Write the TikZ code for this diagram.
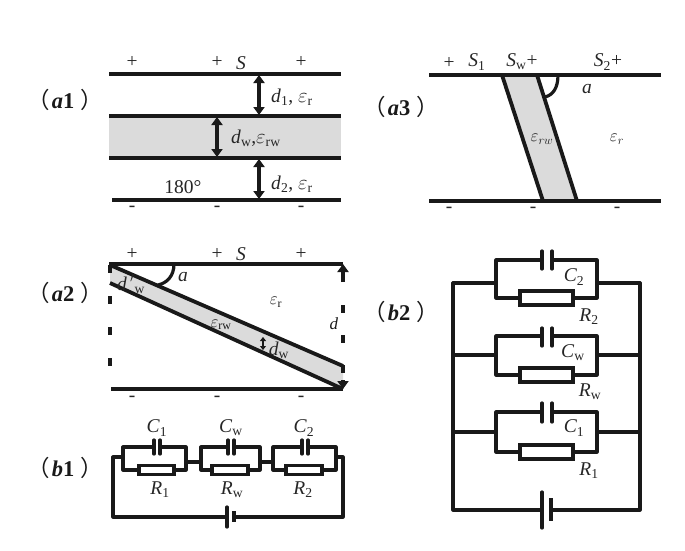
\documentclass[tikz,border=0pt]{standalone}
\usepackage{fontspec}
\setmainfont{Liberation Serif}
\newfontfamily\cjk{Noto Sans CJK SC}
\usetikzlibrary{arrows.meta}

\newcommand{\sbt}[2]{\textit{#1}\textsubscript{#2}}
\newcommand{\panel}[2]{{\cjk （}\hspace{2pt}\textbf{\textit{#1}#2}\hspace{6pt}{\cjk ）}}
\newcommand{\er}{$\varepsilon_{\mathrm{r}}$}
\newcommand{\erw}{$\varepsilon_{\mathrm{rw}}$}

\tikzset{
  wire/.style={line width=3.2pt, line cap=round, line join=round, draw=black!90},
  plate/.style={line width=3.6pt, draw=black!90},
  wall/.style={line width=3.8pt, draw=black!90},
  tipa/.style={-{Triangle[width=11pt,length=8pt]}},
  dbl/.style={line width=3.4pt, {Triangle[width=11pt,length=8pt]}-{Triangle[width=11pt,length=8pt]}, draw=black!90},
  lbl/.style={inner sep=0pt, font=\fontsize{19.5}{22}\selectfont, text=black!85},
  small/.style={inner sep=0pt, font=\fontsize{17}{20}\selectfont, text=black!90},
  panelname/.style={inner sep=0pt, font=\fontsize{22.5}{26}\selectfont, text=black!90},
  res/.style={draw=black!90, line width=3.2pt, fill=white, inner sep=0pt}
}

\begin{document}
\begin{tikzpicture}[x=1pt, y=-1pt]
\useasboundingbox (0,0) rectangle (685,551);

% panel names
\node[panelname] (na1) at (65,100) {\panel{a}{1}};
\node[panelname] (na2) at (65,293) {\panel{a}{2}};
\node[panelname] (na3) at (401,107) {\panel{a}{3}};
\node[panelname] (nb1) at (65,468) {\panel{b}{1}};
\node[panelname] (nb2) at (401,312) {\panel{b}{2}};

% a1
\fill[black!14] (109,116) rectangle (341,158);
\draw[plate] (109,74) coordinate (atl) -- (341,74) coordinate (atr);
\draw[plate] (109,116) coordinate (aml) -- (341,116) coordinate (amr);
\draw[plate] (109,158) coordinate (anl) -- (341,158) coordinate (anr);
\draw[plate] (112,200) coordinate (abl) -- (341,200) coordinate (abr);
\coordinate (d1t) at (259,75);
\coordinate (d1b) at (259,115);
\coordinate (dwt) at (217,117);
\coordinate (dwb) at (217,157);
\coordinate (d2t) at (259,159);
\coordinate (d2b) at (259,199);
\draw[dbl] (d1t) -- (d1b);
\draw[dbl] (dwt) -- (dwb);
\draw[dbl] (d2t) -- (d2b);
\foreach \px/\nm in {132/a, 217/b, 301/c}{
  \node[lbl] (ap\nm) at (\px,62) {+};
  \node[lbl] (am\nm) at (\px,209) {-};
  \node[lbl] (bp\nm) at (\px,254) {+};
  \node[lbl] (bm\nm) at (\px,399) {-};
}
\node[lbl] (aS) at (241,63) {\textit{S}};
\node[lbl, anchor=west] (ad1) at (271,97) {\sbt{d}{1}, \er};
\node[lbl, anchor=west] (adw) at (231,138) {\sbt{d}{w},\erw};
\node[lbl, anchor=west] (ad2) at (271,184) {\sbt{d}{2}, \er};
\node[lbl] (aang) at (183,187) {180°};

% a2
\coordinate (wa) at (110,265);
\coordinate (wb) at (343,366);
\coordinate (wc) at (343,389);
\coordinate (wd) at (110,283);
\fill[black!14] (wa) -- (wb) -- (wc) -- (wd) -- cycle;
\draw[wall] (wa) -- (wb);
\draw[wall] (wd) -- (wc);
\draw[plate] (109,264) coordinate (btl) -- (343,264) coordinate (btr);
\draw[plate] (111,389) coordinate (bbl) -- (343,389) coordinate (bbr);
\coordinate (dla) at (110,265);
\coordinate (dlb) at (110,366);
\draw[line width=4pt, draw=black!90, dash pattern=on 8pt off 23pt] (dla) -- (dlb);
\coordinate (dra) at (343,305);
\coordinate (drb) at (343,377);
\draw[line width=3.6pt, draw=black!90, dash pattern=on 8pt off 22pt] (dra) -- (drb);
\draw[line width=3.6pt, draw=black!90, tipa] (343,282) -- (btr);
\draw[line width=3.6pt, draw=black!90, tipa] (343,380) -- (bbr);
\coordinate (angb1) at (174,264);
\coordinate (angb2) at (158,285);
\draw[wire] (angb1) .. controls (174,276) and (167,283) .. (angb2);
\coordinate (dsa) at (263,337);
\coordinate (dsb) at (263,350);
\draw[line width=2pt, draw=black!90, {Triangle[width=6pt,length=4pt]}-{Triangle[width=6pt,length=4pt]}] (dsa) -- (dsb);
\node[lbl] (bS) at (241,254) {\textit{S}};
\node[lbl] (ba) at (183,277) {\textit{a}};
\node[small] (ber) at (276,302) {\er};
\node[small] (berw) at (221,325) {\erw};
\node[small] (bd) at (334,324) {\textit{d}};
\node[lbl] (bdw) at (279,350) {\sbt{d}{w}};
\node[lbl] (bdp) at (131,284) {\textit{d}\,$'$\textsubscript{w}};

% a3
\coordinate (ca) at (502,75);
\coordinate (cb) at (537,75);
\coordinate (cc) at (577,201);
\coordinate (cd) at (543,201);
\fill[black!14] (ca) -- (cb) -- (cc) -- (cd) -- cycle;
\draw[wall] (ca) -- (cd);
\draw[wall] (cb) -- (cc);
\draw[plate] (429,75) coordinate (ctl) -- (661,75) coordinate (ctr);
\draw[plate] (429,201) coordinate (cbl) -- (661,201) coordinate (cbr);
\coordinate (angc1) at (558,75);
\coordinate (angc2) at (545,97);
\draw[wire] (angc1) .. controls (558,88) and (553,95) .. (angc2);
\node[lbl] (cp) at (449,63) {+};
\node[lbl] (cS1) at (477,62) {\sbt{S}{1}};
\node[lbl] (cSw) at (522,62) {\sbt{S}{w}+};
\node[lbl] (cS2) at (608,62) {\sbt{S}{2}+};
\node[lbl] (ca3) at (587,89) {\textit{a}};
\node[small] (cerw) at (542,139) {$\varepsilon_{rw}$};
\node[small] (cer) at (617,139) {$\varepsilon_{r}$};
\foreach \px/\nm in {449/a, 533/b, 617/c}
  \node[lbl] (cm\nm) at (\px,210) {-};

% b1
\foreach \nm/\xl/\xr/\xc/\xra/\xrb in {p/123/186/157/139/174, q/201/260/231/212/248, u/273/336/305/286/322}{
  \coordinate (\nm tl) at (\xl,447);
  \coordinate (\nm tr) at (\xr,447);
  \coordinate (\nm bl) at (\xl,470);
  \coordinate (\nm br) at (\xr,470);
  \coordinate (\nm ca) at (\xc-3,447);
  \coordinate (\nm cb) at (\xc+3,447);
  \node[res, minimum width=\xrb-\xra, minimum height=9pt] (\nm r) at ({(\xra+\xrb)/2},470) {};
  \draw[wire] (\nm ca) -- (\nm tl) -- (\nm bl) -- (\nm r);
  \draw[wire] (\nm cb) -- (\nm tr) -- (\nm br) -- (\nm r);
  \draw[wire] (\xc-3,440) -- (\nm ca) -- (\xc-3,454);
  \draw[wire] (\xc+3,440) -- (\nm cb) -- (\xc+3,454);
}
\coordinate (pm) at (186,462);
\coordinate (qml) at (201,462);
\coordinate (qmr) at (260,462);
\coordinate (um) at (273,462);
\draw[wire] (pm) -- (qml);
\draw[wire] (qmr) -- (um);
\coordinate (ola) at (123,457);
\coordinate (olb) at (113,457);
\coordinate (olc) at (113,517);
\coordinate (ora) at (336,457);
\coordinate (orb) at (343,457);
\coordinate (orc) at (343,517);
\coordinate (bta) at (227,517);
\coordinate (btb) at (234,517);
\draw[wire] (ola) -- (olb) -- (olc) -- (bta);
\draw[wire] (ora) -- (orb) -- (orc) -- (btb);
\draw[wire] (227,507) -- (bta) -- (227,527);
\draw[line width=4pt, draw=black!90] (234,511) -- (btb) -- (234,522);
\node[lbl] (lc1) at (157,428) {\sbt{C}{1}};
\node[lbl] (lcw) at (231,428) {\sbt{C}{w}};
\node[lbl] (lc2) at (304,428) {\sbt{C}{2}};
\node[lbl] (lr1) at (160,490) {\sbt{R}{1}};
\node[lbl] (lrw) at (232,490) {\sbt{R}{w}};
\node[lbl] (lr2) at (303,490) {\sbt{R}{2}};

% b2
\foreach \nm/\yt/\ym/\yb/\yca/\ycb in {g/260/283/298/251/269, h/336/355/375/328/346, k/412/432/452/403/422}{
  \coordinate (\nm tl) at (496,\yt);
  \coordinate (\nm tr) at (597,\yt);
  \coordinate (\nm bl) at (496,\yb);
  \coordinate (\nm br) at (597,\yb);
  \coordinate (\nm ca) at (542,\yt);
  \coordinate (\nm cb) at (552,\yt);
  \coordinate (\nm ml) at (496,\ym);
  \coordinate (\nm mr) at (597,\ym);
  \coordinate (\nm ol) at (453,\ym);
  \coordinate (\nm or) at (640,\ym);
  \node[res, minimum width=53pt, minimum height=14pt] (\nm r) at (546.5,\yb) {};
  \draw[wire] (\nm ca) -- (\nm tl) -- (\nm bl) -- (\nm r);
  \draw[wire] (\nm cb) -- (\nm tr) -- (\nm br) -- (\nm r);
  \draw[wire] (542,\yca) -- (542,\ycb);
  \draw[wire] (552,\yca) -- (552,\ycb);
  \draw[wire] (\nm ol) -- (\nm ml);
  \draw[wire] (\nm mr) -- (\nm or);
}
\coordinate (ebl) at (453,510);
\coordinate (ebr) at (640,510);
\coordinate (eba) at (542,510);
\coordinate (ebb) at (551,510);
\draw[wire] (gol) -- (ebl) -- (eba);
\draw[wire] (gor) -- (ebr) -- (ebb);
\draw[wire] (542,492) -- (eba) -- (542,528);
\draw[line width=4pt, draw=black!90] (551,498) -- (ebb) -- (551,521);
\node[lbl] (mc2) at (574,277) {\sbt{C}{2}};
\node[lbl] (mr2) at (589,317) {\sbt{R}{2}};
\node[lbl] (mcw) at (573,353) {\sbt{C}{w}};
\node[lbl] (mrw) at (590,392) {\sbt{R}{w}};
\node[lbl] (mc1) at (574,428) {\sbt{C}{1}};
\node[lbl] (mr1) at (589,471) {\sbt{R}{1}};
\end{tikzpicture}
\end{document}
